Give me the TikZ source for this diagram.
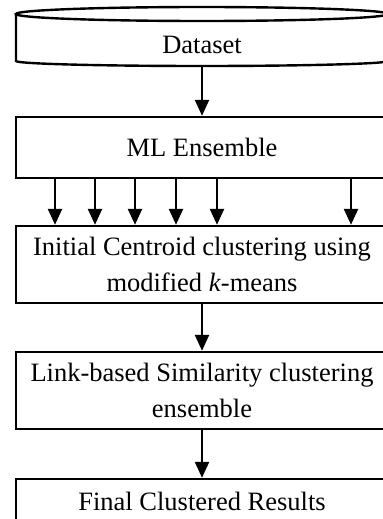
\documentclass[tikz,border=0pt]{standalone}
\usepackage{fontspec}
\setmainfont{Liberation Serif}
\usetikzlibrary{arrows.meta}

\tikzset{
  stage/.style={draw, line width=1.2pt, minimum width=186pt, align=center,
    inner sep=0pt, font=\fontsize{13.25}{18}\selectfont},
  flow/.style={-{Triangle[width=7pt,length=8pt]}, line width=1.2pt},
}

\begin{document}
\begin{tikzpicture}[x=0.5pt,y=-0.5pt]
  \useasboundingbox (0,0) rectangle (383,519);
  \clip (0,0) rectangle (383,519);
%%
  % Node: Dataset (drum)
  \node[stage, draw=none, minimum height=26pt] (dataset) at (202,40) {};
  \draw[line width=1.2pt] (202,14) ellipse (93pt and 3.5pt);
  \draw[line width=1.2pt] (16,14) -- (16,61)
    arc[start angle=180, end angle=360, x radius=93pt, y radius=2.5pt] -- (388,14);
  \node[font=\fontsize{13.25}{18}\selectfont] (dslabel) at (202,45) {Dataset};
  % Node: ML
  \node[stage, minimum height=30.5pt] (ml) at (202,147.5) {ML Ensemble};
  % Node: Init
  \node[stage, minimum height=38.5pt] (init) at (202,264.5)
    {Initial Centroid clustering using\\modified \textit{k}-means};
  % Node: Link
  \node[stage, minimum height=38.5pt] (link) at (202,390.5)
    {Link-based Similarity clustering\\ensemble};
  % Node: Final
  \node[stage, minimum height=22pt] (final) at (202,501) {Final Clustered Results};
%
  % Edge: Dataset -> ML
  \draw[flow] (dataset.south) -- (ml.north);
  % Edge: ML -> Init
  \foreach \x in {55,95,135,176,217,351}
    \draw[flow] (ml.south -| \x,0) -- (init.north -| \x,0);
  % Edge: Init -> Link
  \draw[flow] (init.south) -- (link.north);
  % Edge: Link -> Final
  \draw[flow] (link.south) -- (final.north);
\end{tikzpicture}
\end{document}
